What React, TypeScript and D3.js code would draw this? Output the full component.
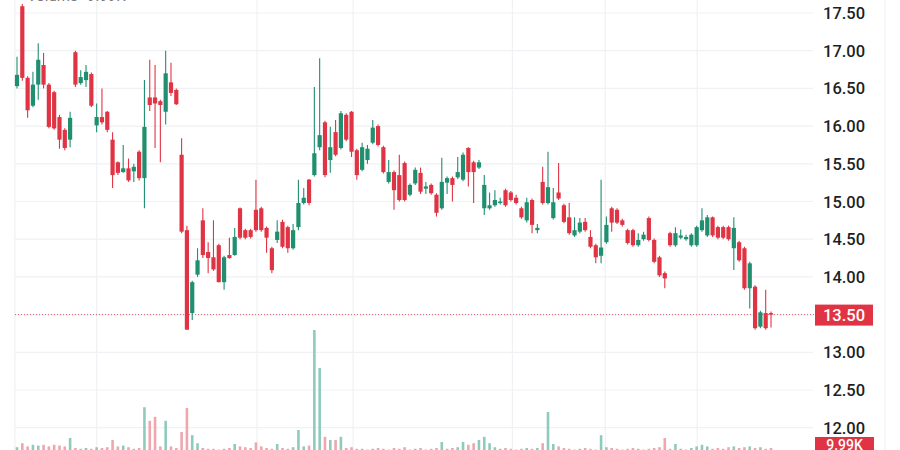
import React from "react";
import * as d3 from "d3";

const opens = [16.53,17.59,16.64,16.27,16.55,16.81,16.55,16.45,16.12,15.95,15.82,16.98,16.57,16.61,16.69,16.01,16.12,16.19,15.82,15.52,15.39,15.44,15.40,15.66,15.31,16.38,16.38,16.33,16.19,16.58,16.48,15.62,14.62,13.52,14.03,14.75,14.33,14.26,14.42,13.93,14.29,14.29,14.91,14.62,14.62,14.89,14.91,14.65,14.38,14.49,14.73,14.66,14.38,14.66,14.98,15.29,15.35,15.72,16.05,15.55,15.92,15.71,16.15,16.19,15.68,15.42,15.55,15.78,16.00,15.72,15.26,15.39,15.35,15.51,15.09,15.24,15.38,15.17,15.22,15.09,14.91,15.25,15.31,15.32,15.29,15.71,15.52,15.45,14.91,14.91,14.95,14.98,15.15,15.12,15.05,14.91,14.75,15.02,14.62,15.26,14.98,14.78,15.12,14.95,14.79,14.55,14.60,14.73,14.53,14.42,14.28,14.46,14.91,14.89,14.75,14.62,14.62,14.42,14.50,14.78,14.49,14.26,14.05,14.58,14.42,14.52,14.50,14.42,14.42,14.62,14.55,14.79,14.66,14.66,14.66,14.38,14.46,14.38,13.85,13.87,13.34,13.52,13.52];
const highs = [16.92,17.62,16.66,16.72,17.10,16.97,16.57,16.47,16.15,15.97,16.19,17.00,16.74,16.81,16.71,16.30,16.50,16.20,15.92,15.53,15.75,15.57,15.50,15.68,16.61,16.88,16.81,16.35,17.00,16.84,16.50,15.84,14.68,13.95,14.38,14.91,14.46,14.75,14.44,14.28,14.52,14.65,14.92,14.64,14.64,15.29,14.93,14.67,14.40,14.75,14.76,14.68,14.70,15.29,15.18,15.30,16.52,16.90,16.07,15.99,16.08,16.20,16.17,16.20,15.70,15.78,15.75,16.08,16.02,15.74,15.55,15.41,15.62,15.53,15.24,15.45,15.45,15.26,15.24,15.11,15.58,15.33,15.33,15.59,15.65,15.72,15.54,15.55,15.35,15.12,15.15,15.05,15.17,15.14,15.09,14.93,15.05,15.04,14.70,15.46,15.66,15.18,15.51,14.97,14.98,14.79,14.78,14.78,14.62,14.44,15.29,14.80,14.93,14.91,14.77,14.64,14.64,14.58,14.60,14.80,14.51,14.28,14.07,14.60,14.66,14.63,14.56,14.58,14.68,14.91,14.82,14.80,14.68,14.68,14.68,14.79,14.48,14.40,14.20,13.89,13.55,13.83,13.54];
const lows = [16.50,16.60,16.11,16.25,16.35,16.50,15.97,15.95,15.70,15.68,15.72,16.52,16.55,16.52,16.25,15.92,16.02,15.92,15.18,15.35,15.38,15.26,15.26,15.28,14.91,16.20,15.71,15.52,16.02,16.40,16.28,14.58,13.30,13.43,14.00,14.25,14.05,14.08,13.93,13.83,14.24,14.28,14.50,14.50,14.51,14.60,14.60,14.32,14.05,14.45,14.38,14.32,14.36,14.62,14.96,14.95,15.33,15.68,15.32,15.38,15.60,15.69,15.80,15.59,15.29,15.40,15.50,15.76,15.73,15.37,15.24,14.89,15.00,15.00,15.07,15.22,15.10,15.10,15.09,14.80,14.89,15.10,15.00,15.30,15.27,15.20,14.98,15.43,14.82,14.89,14.93,14.96,14.93,15.00,14.96,14.77,14.72,14.58,14.58,14.96,14.96,14.76,15.02,14.71,14.56,14.53,14.58,14.60,14.38,14.18,14.18,14.44,14.60,14.70,14.67,14.43,14.40,14.40,14.48,14.47,14.18,14.00,13.85,14.40,14.40,14.50,14.48,14.40,14.40,14.60,14.53,14.53,14.50,14.50,14.48,14.09,14.20,13.83,13.58,13.30,13.32,13.30,13.33];
const closes = [16.68,16.64,16.21,16.55,16.88,16.55,15.99,15.97,15.82,15.71,16.11,16.55,16.65,16.72,16.27,16.12,16.05,15.95,15.35,15.38,15.44,15.28,15.46,15.31,15.99,16.28,16.30,16.28,16.70,16.44,16.29,14.60,13.30,13.93,14.22,14.29,14.25,14.10,13.93,14.26,14.25,14.53,14.52,14.52,14.53,14.62,14.62,14.52,14.09,14.60,14.40,14.38,14.62,14.98,15.05,14.98,15.64,15.88,15.35,15.72,15.62,16.17,15.82,15.66,15.35,15.72,15.70,15.98,15.75,15.39,15.39,15.15,15.02,15.02,15.22,15.42,15.13,15.20,15.11,14.85,15.26,15.31,15.22,15.39,15.62,15.39,15.39,15.52,15.22,14.95,15.02,15.00,14.95,15.02,14.98,14.79,14.99,14.69,14.65,14.98,15.19,14.99,15.04,14.73,14.58,14.62,14.72,14.62,14.40,14.26,14.39,14.69,14.72,14.72,14.69,14.45,14.42,14.49,14.56,14.49,14.20,14.02,13.98,14.42,14.58,14.55,14.53,14.56,14.66,14.75,14.79,14.55,14.52,14.52,14.50,14.65,14.22,13.85,14.18,13.32,13.53,13.32,13.50];
const volumesK = [12,22,14,18,16,18,14,18,16,14,35,10,8,10,8,12,10,12,30,14,16,12,8,10,112,78,88,14,78,14,10,50,110,42,22,10,8,8,6,8,10,20,14,12,10,24,14,10,8,20,10,8,12,55,14,16,305,210,38,30,30,38,10,12,8,8,6,8,10,8,6,10,8,12,6,8,10,6,8,10,25,8,10,12,25,18,22,30,38,22,12,8,10,8,6,8,10,8,10,22,100,20,14,10,8,6,8,10,8,6,42,12,10,8,6,8,10,8,6,8,10,12,35,8,20,8,6,10,14,18,14,8,10,8,12,14,10,12,14,10,12,8,9.99];

const priceTicks = [17.5,17,16.5,16,15.5,15,14.5,14,13.5,13,12.5,12];
const tickLabels = ["17.50","17.00","16.50","16.00","15.50","15.00","14.50","14.00","13.50","13.00","12.50","12.00"];
const lastPriceLabel = "13.50";
const lastVolumeLabel = "9.99K";
const headerWords = ["Volume", "9.99K"];
const monthGridIdx = [-0.4, 15, 45.2, 63.3, 93.3, 110.8, 128.1];

const UP = "#1f8f6f";
const DOWN = "#e03444";
const UPV = "#8fcbbd";
const DOWNV = "#f1a6ad";

export default function App() {
  const W = 900, H = 450;
  const n = opens.length;
  const x = d3.scaleLinear().domain([0, n - 1]).range([17, 771]);
  const y = d3.scaleLinear().domain([12, 17.5]).range([427.7, 13]);
  const yv = d3.scaleLinear().domain([0, 100]).range([452, 412]);
  const bodyW = 4.2;
  const lastClose = closes[n - 1];
  const font = "Roboto, 'Liberation Sans', Arial, sans-serif";

  return (
    <svg width={W} height={H} style={{ position: "absolute", left: 0, top: 0, background: "#fff" }}>
      <rect x={0} y={0} width={W} height={H} fill="#fff" />
      {priceTicks.map((t, i) => (
        <line key={"h" + i} x1={15} x2={813} y1={y(t)} y2={y(t)} stroke="#f0f1f4" strokeWidth={1.2} />
      ))}
      {monthGridIdx.map((g, i) => (
        <line key={"v" + i} x1={x(g)} x2={x(g)} y1={0} y2={H} stroke="#f0f1f4" strokeWidth={1.2} />
      ))}
      <line x1={885} x2={885} y1={0} y2={H} stroke="#f0f1f4" strokeWidth={1.2} />
      {headerWords.map((w, i) => (
        <text key={"hw" + i} x={i === 0 ? 27 : 87} y={1} fontSize={15} fill="#7a7a7a" fontFamily={font}>{w}</text>
      ))}
      {volumesK.map((v, i) => (
        <rect key={"vb" + i} x={x(i) - 1.3} y={yv(v)} width={2.6} height={yv(0) - yv(v)}
          fill={closes[i] >= opens[i] ? UPV : DOWNV} />
      ))}
      <line x1={15} x2={815} y1={y(lastClose)} y2={y(lastClose)} stroke={DOWN} strokeWidth={1} strokeDasharray="1,2" opacity={0.8} />
      {opens.map((o, i) => {
        const c = closes[i];
        const up = c >= o;
        const col = up ? UP : DOWN;
        const top = y(Math.max(o, c));
        const bot = y(Math.min(o, c));
        return (
          <g key={"c" + i}>
            <line x1={x(i)} x2={x(i)} y1={y(highs[i])} y2={y(lows[i])} stroke={col} strokeWidth={1.1} />
            <rect x={x(i) - bodyW / 2} y={top} width={bodyW} height={Math.max(1.5, bot - top)} fill={col} />
          </g>
        );
      })}
      {priceTicks.map((t, i) => (
        <text key={"t" + i} x={823} y={y(t) + 6} fontSize={16.5} fontWeight={500} fill="#1c1f26" fontFamily={font}>{tickLabels[i]}</text>
      ))}
      <rect x={815} y={y(lastClose) - 10} width={58} height={21} fill={DOWN} />
      <text x={844} y={y(lastClose) + 6} fontSize={16.5} fontWeight={500} fill="#fff" textAnchor="middle" fontFamily={font}>{lastPriceLabel}</text>
      <rect x={815} y={437} width={59} height={18} fill={DOWN} />
      <text x={844.5} y={449.5} fontSize={14} fontWeight={500} fill="#fff" textAnchor="middle" fontFamily={font}>{lastVolumeLabel}</text>
    </svg>
  );
}
